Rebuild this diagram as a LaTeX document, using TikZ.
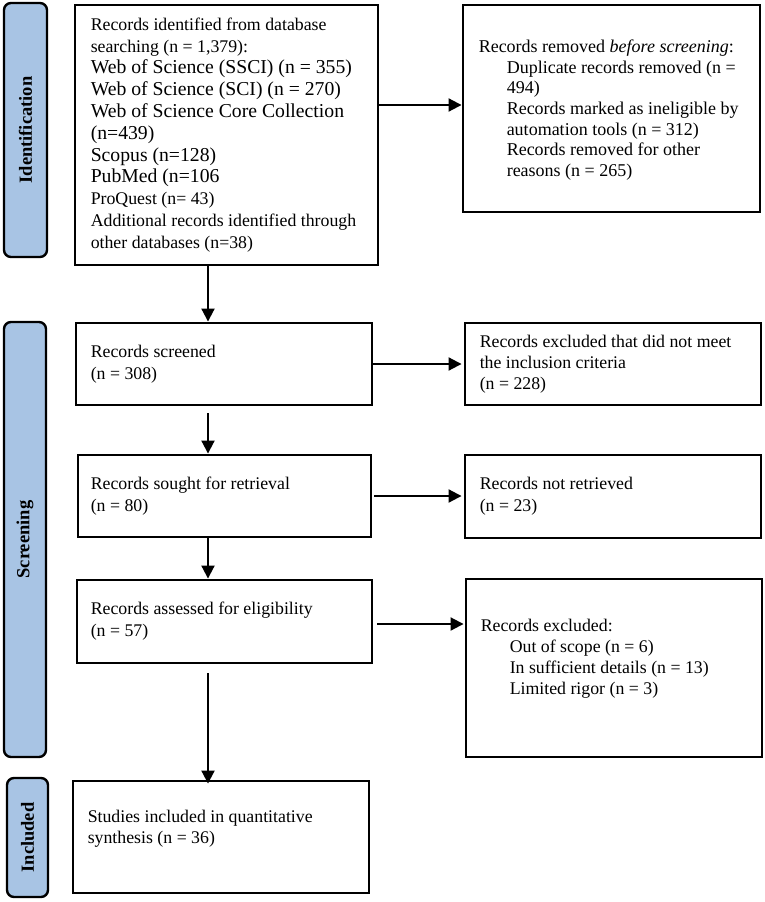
\documentclass[tikz,border=0pt]{standalone}
\usepackage{fontspec}
\setmainfont{Liberation Serif}
\usetikzlibrary{arrows.meta,calc}
\definecolor{sideblue}{RGB}{168,196,228}
\newcommand{\lgtxt}[1]{{\fontsize{19.7}{21.8}\selectfont #1}}
\begin{document}
\begin{tikzpicture}[x=1pt,y=-1pt,
  box/.style={draw=black, line width=2.9pt, inner sep=0pt},
  side/.style={draw=black, line width=2.4pt, fill=sideblue, rounded corners=7pt, inner sep=0pt, rotate=90, font=\fontsize{18.5}{20}\selectfont\bfseries},
  txt/.style={align=left, inner sep=0pt, anchor=west, font=\fontsize{17.8}{21.8}\selectfont},
  arr/.style={line width=2pt, -{Triangle[length=13pt,width=13pt]}}]
\useasboundingbox (0,0) rectangle (765,902);

% side labels
\node[side, minimum width=254pt, minimum height=43pt] (lid) at (25.5,130) {Identification};
\node[side, minimum width=435pt, minimum height=42pt] (lscr) at (25,539.5) {Screening};
\node[side, minimum width=119pt, minimum height=41pt] (linc) at (27.5,837.5) {Included};

% boxes
\node[box, minimum width=303pt, minimum height=260pt] (id) at (226.5,135) {};
\node[box, minimum width=297pt, minimum height=207pt] (rem) at (611.5,108.5) {};
\node[box, minimum width=296pt, minimum height=82pt] (scr) at (224,364) {};
\node[box, minimum width=296pt, minimum height=82pt] (exa) at (613,364) {};
\node[box, minimum width=293pt, minimum height=82pt] (sou) at (224.5,496) {};
\node[box, minimum width=296pt, minimum height=83pt] (nr) at (613,496.5) {};
\node[box, minimum width=295pt, minimum height=83pt] (ass) at (224.5,621.5) {};
\node[box, minimum width=296pt, minimum height=178pt] (exb) at (614,668) {};
\node[box, minimum width=296pt, minimum height=112pt] (inc) at (221,837) {};

% texts
\node[txt] (tid) at ([xshift=17pt]id.west) {Records identified from database\\
searching (n = 1,379):\\
\lgtxt{Web of Science (SSCI) (n = 355)}\\
\lgtxt{Web of Science (SCI) (n = 270)}\\
\lgtxt{Web of Science Core Collection}\\
\lgtxt{(n=439)}\\
\lgtxt{Scopus (n=128)}\\
\lgtxt{PubMed (n=106}\\
ProQuest (n= 43)\\
Additional records identified through\\
other databases (n=38)};

\node[txt, font=\fontsize{18}{20.7}\selectfont] (trem) at ([xshift=17pt,yshift=-1.5pt]rem.west) {Records removed \textit{before screening}:\\
\hspace*{28pt}Duplicate records removed (n =\\
\hspace*{28pt}494)\\
\hspace*{28pt}Records marked as ineligible by\\
\hspace*{28pt}automation tools (n = 312)\\
\hspace*{28pt}Records removed for other\\
\hspace*{28pt}reasons (n = 265)};

\node[txt] (tscr) at ([xshift=16pt]scr.west) {Records screened\\(n = 308)};
\node[txt, font=\fontsize{17.8}{21}\selectfont] (texa) at ([xshift=16pt]exa.west) {Records excluded that did not meet\\the inclusion criteria\\(n = 228)};
\node[txt] (tsou) at ([xshift=14pt]sou.west) {Records sought for retrieval\\(n = 80)};
\node[txt] (tnr) at ([xshift=16pt]nr.west) {Records not retrieved\\(n = 23)};
\node[txt] (tass) at ([xshift=15pt]ass.west) {Records assessed for eligibility\\(n = 57)};
\node[txt, font=\fontsize{17.8}{21}\selectfont] (texb) at ([xshift=16pt,yshift=9pt]exb.west) {Records excluded:\\
\hspace*{29pt}Out of scope (n = 6)\\
\hspace*{29pt}In sufficient details (n = 13)\\
\hspace*{29pt}Limited rigor (n = 3)};
\node[txt, font=\fontsize{17.8}{20.5}\selectfont] (tinc) at ([xshift=16pt,yshift=8.5pt]inc.west) {Studies included in quantitative\\synthesis (n = 36)};

% connectors
\coordinate (ax) at (208,0);
\coordinate (a1) at ($(rem.west)+(0,-3.5)$);
\coordinate (a4) at ($(ass.east)+(0,2.5)$);
\draw[arr] (id.east |- a1) -- (a1);
\draw[arr, shorten >=2pt] (scr.east) -- (scr.east -| exa.west);
\draw[arr, shorten <=2pt, shorten >=2pt] (sou.east) -- (sou.east -| nr.west);
\draw[arr, shorten <=4pt, shorten >=1pt] (a4) -- (a4 -| exb.west);

\draw[arr] (id.south -| ax) -- (scr.north -| ax);
\draw[arr, shorten <=7pt] (scr.south -| ax) -- (sou.north -| ax);
\draw[arr] (sou.south -| ax) -- (ass.north -| ax);
\draw[arr, shorten <=9pt, shorten >=-4pt] (ass.south -| ax) -- (inc.north -| ax);
\end{tikzpicture}
\end{document}
